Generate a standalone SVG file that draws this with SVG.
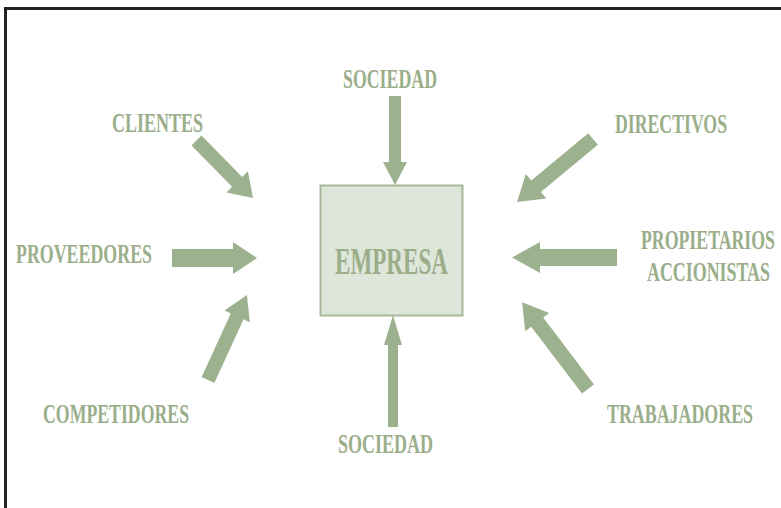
<svg xmlns="http://www.w3.org/2000/svg" width="781" height="508" viewBox="0 0 781 508">
<style>
.lbl{font-family:"Liberation Serif","Times New Roman",serif;font-weight:bold;font-size:28px;fill:#9aae8a}
.arr{fill:#9cb18d}
</style>
<rect width="781" height="508" fill="#ffffff"/>
<path d="M5.5 508 V8.5 H781" fill="none" stroke="#222222" stroke-width="3"/>
<g id="empresa">
<rect x="320.5" y="185.5" width="142" height="130" fill="#dee6d9" stroke="#a6ba9b" stroke-width="2"/>
<text class="lbl" transform="translate(335,274) scale(0.625,1)" x="0" y="0" textLength="180.8" lengthAdjust="spacingAndGlyphs" style="font-size:37px">EMPRESA</text>
</g>
<g id="sociedad-top"><text class="lbl" transform="translate(343,88) scale(0.636,1)" x="0" y="0" textLength="147.8" lengthAdjust="spacingAndGlyphs">SOCIEDAD</text></g>
<g id="clientes"><text class="lbl" transform="translate(112,132) scale(0.643,1)" x="0" y="0" textLength="141.5" lengthAdjust="spacingAndGlyphs">CLIENTES</text></g>
<g id="directivos"><text class="lbl" transform="translate(615,133) scale(0.631,1)" x="0" y="0" textLength="177.5" lengthAdjust="spacingAndGlyphs">DIRECTIVOS</text></g>
<g id="proveedores"><text class="lbl" transform="translate(16,263) scale(0.640,1)" x="0" y="0" textLength="212.5" lengthAdjust="spacingAndGlyphs">PROVEEDORES</text></g>
<g id="propietarios">
<text class="lbl" transform="translate(641,249) scale(0.629,1)" x="0" y="0" textLength="213" lengthAdjust="spacingAndGlyphs">PROPIETARIOS</text>
<text class="lbl" transform="translate(647,281) scale(0.632,1)" x="0" y="0" textLength="194.6" lengthAdjust="spacingAndGlyphs">ACCIONISTAS</text>
</g>
<g id="competidores"><text class="lbl" transform="translate(43,423) scale(0.634,1)" x="0" y="0" textLength="230.3" lengthAdjust="spacingAndGlyphs">COMPETIDORES</text></g>
<g id="trabajadores"><text class="lbl" transform="translate(607,423) scale(0.656,1)" x="0" y="0" textLength="222.6" lengthAdjust="spacingAndGlyphs">TRABAJADORES</text></g>
<g id="sociedad-bottom"><text class="lbl" transform="translate(338,453) scale(0.636,1)" x="0" y="0" textLength="149.4" lengthAdjust="spacingAndGlyphs">SOCIEDAD</text></g>
<g id="connectors" class="arr">
<polygon transform="translate(395,96) rotate(90)" points="0,-6 66,-6 66,-12 89,0 66,12 66,6 0,6"/>
<polygon transform="translate(393,427) rotate(-90)" points="0,-5 82,-5 82,-9 112,0 82,9 82,5 0,5"/>
<polygon transform="translate(172,258)" points="0,-9 61,-9 61,-16 85,0 61,16 61,9 0,9"/>
<polygon transform="translate(617,257.5) rotate(180)" points="0,-8.5 77,-8.5 77,-15.5 105,0 77,15.5 77,8.5 0,8.5"/>
<polygon transform="translate(196.5,140.5) rotate(45.5)" points="0,-7 58,-7 58,-15 80.6,0 58,15 58,7 0,7"/>
<polygon transform="translate(593,139) rotate(140.3)" points="0,-7.5 74,-7.5 74,-16 98.7,0 74,16 74,7.5 0,7.5"/>
<polygon transform="translate(208,380) rotate(-65.4)" points="0,-7 70,-7 70,-14 93.5,0 70,14 70,7 0,7"/>
<polygon transform="translate(588,389) rotate(-127.2)" points="0,-7.5 84,-7.5 84,-15 109,0 84,15 84,7.5 0,7.5"/>
</g>
</svg>
